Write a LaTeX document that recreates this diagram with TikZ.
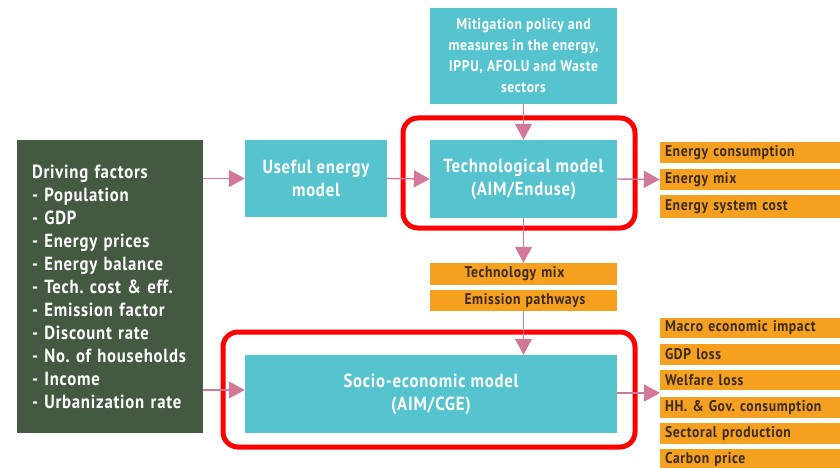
\documentclass[tikz,border=0pt]{standalone}
\usepackage{fontspec}
\setmainfont{PT Sans}[FakeStretch=0.88, LetterSpace=4]
\usetikzlibrary{arrows.meta}
\frenchspacing

\definecolor{teal}{HTML}{55C4CF}
\definecolor{drivegreen}{HTML}{435A41}
\definecolor{outorange}{HTML}{F6A01F}
\definecolor{linkpink}{HTML}{D4789A}
\definecolor{hilite}{HTML}{FF0000}
\definecolor{darktext}{HTML}{3A2C18}

\tikzset{
  modelbox/.style={fill=teal, text=white, inner sep=0pt, align=center,
    font=\bfseries\fontsize{19}{23}\selectfont},
  drivebox/.style={fill=drivegreen, text=white, inner sep=0pt, align=left,
    font=\bfseries\fontsize{19}{23}\selectfont},
  outbox/.style={fill=outorange, text=darktext, inner sep=0pt, align=left,
    font=\bfseries\fontsize{15.5}{18}\selectfont},
  hiliteframe/.style={draw=hilite, line width=5pt, rounded corners=15pt},
  link/.style={draw=linkpink, line width=1.4pt,
    -{Triangle[length=16pt,width=17pt]}},
}

% box by its left, top, right and bottom edges (y grows downwards)
\newcommand{\boxat}[7]{%
  \node[#1, minimum width={#5-#3}, minimum height={#6-#4}] (#2)
    at ({(#3+#5)/2},{(#4+#6)/2}) {#7};}

\begin{document}
\begin{tikzpicture}[x=1pt,y=-1pt]
  \useasboundingbox[fill=white] (0,0) rectangle (840,468);

  % highlight frames around the two core models
  \draw[hiliteframe] (403,118) rectangle (635,228);
  \draw[hiliteframe] (223,332) rectangle (635,447);

  % driving factors
  \boxat{drivebox, text width=156pt}{drive}{17}{140}{203}{433}{%
    Driving factors\\
    - Population\\
    - GDP\\
    - Energy prices\\
    - Energy balance\\
    - Tech. cost \& eff.\\
    - Emission factor\\
    - Discount rate\\
    - No. of households\\
    - Income\\
    - Urbanization rate}

  % models
  \boxat{modelbox}{useful}{245}{140}{387}{217}{Useful energy\\model}
  \boxat{modelbox, font=\bfseries\fontsize{15.5}{21}\selectfont}{mitig}{430}{8}{617}{104}{%
    Mitigation policy and\\measures in the energy,\\IPPU, AFOLU and Waste\\sectors}
  \boxat{modelbox}{tech}{430}{140}{617}{218}{Technological model\\(AIM/Enduse)}
  \boxat{modelbox}{socio}{245}{355}{617}{433}{Socio-economic model\\(AIM/CGE)}

  % intermediate results
  \boxat{outbox, text width=152pt}{techmix}{430}{263}{617}{285}{\hspace*{17pt}Technology mix}
  \boxat{outbox, text width=152pt}{emis}{430}{290}{617}{311}{\hspace*{17pt}Emission pathways}

  % outputs of the technological model
  \boxat{outbox, text width=170pt}{econs}{660}{142}{840}{163}{Energy consumption}
  \boxat{outbox, text width=170pt}{emix}{660}{169}{840}{190}{Energy mix}
  \boxat{outbox, text width=170pt}{ecost}{660}{195}{840}{218}{Energy system cost}

  % outputs of the socio-economic model
  \boxat{outbox, text width=170pt}{macro}{660}{318}{840}{338}{Macro economic impact}
  \boxat{outbox, text width=170pt}{gdp}{660}{344}{840}{365}{GDP loss}
  \boxat{outbox, text width=170pt}{welfare}{660}{370}{840}{390}{Welfare loss}
  \boxat{outbox, text width=170pt}{hhgov}{660}{397}{840}{418}{HH. \& Gov. consumption}
  \boxat{outbox, text width=170pt}{sector}{660}{423}{840}{444}{Sectoral production}
  \boxat{outbox, text width=170pt}{carbon}{660}{449}{840}{470}{Carbon price}

  \coordinate (outs) at (660,393);

  % connectors
  \draw[link] (drive.east |- useful.west) -- (useful.west);
  \draw[link] (useful.east) -- (tech.west);
  \draw[link] (mitig.south) -- (tech.north);
  \draw[link] (tech.east) -- (emix.west);
  \draw[link] (tech.south) -- (techmix.north);
  \draw[link] (emis.south) -- (emis.south |- socio.north);
  \draw[link] (drive.east |- 0,390) -- (socio.west |- 0,390);
  \draw[link] (socio.east |- outs) -- (outs);
\end{tikzpicture}
\end{document}
